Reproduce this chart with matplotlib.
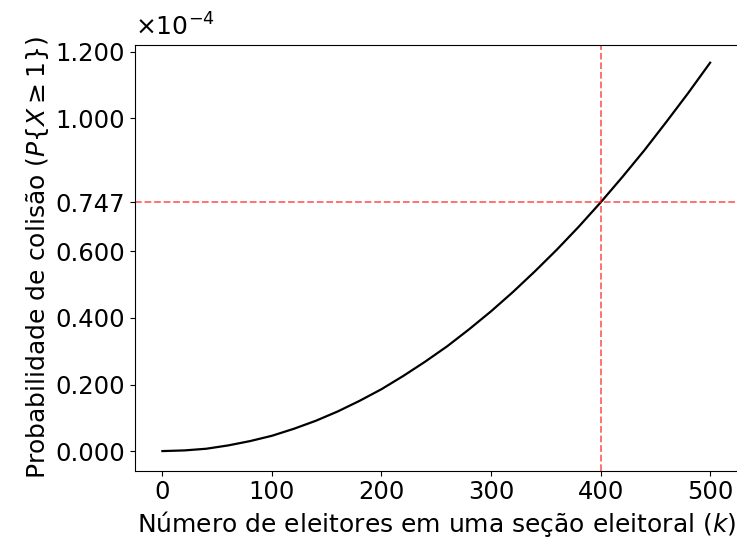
import matplotlib
matplotlib.use("Agg")
import matplotlib.pyplot as plt
from matplotlib.ticker import FuncFormatter

# valores (probabilidade em unidades de 1e-4)
eleitores = [0, 20, 40, 60, 80, 100, 120, 140, 160, 180, 200, 220, 240,
             260, 280, 300, 320, 340, 360, 380, 400, 420, 440, 460, 480, 500]
probabilidade = [0.0, 0.002, 0.007, 0.017, 0.030, 0.046, 0.067, 0.091, 0.119, 0.151,
                 0.186, 0.226, 0.269, 0.315, 0.366, 0.420, 0.478, 0.540, 0.605, 0.674,
                 0.747, 0.824, 0.904, 0.989, 1.076, 1.167]

k_ref = 400
p_ref = 0.747
yticks = [0.0, 0.2, 0.4, 0.6, 0.747, 1.0, 1.2]
xticks = [0, 100, 200, 300, 400, 500]

plt.rcParams["font.family"] = "DejaVu Sans"
plt.rcParams["mathtext.fontset"] = "dejavusans"

fig = plt.figure(figsize=(7.37, 5.45), dpi=100)
ax = fig.add_axes([0.1832, 0.1363, 0.8175, 0.781])

ax.plot(eleitores, probabilidade, color="black", lw=1.6)
ax.axvline(k_ref, color="red", alpha=0.6, ls="--", lw=1.3)
ax.axhline(p_ref, color="red", alpha=0.6, ls="--", lw=1.3)

ax.set_xlim(-25, 525)
ax.set_ylim(-0.059, 1.22)
ax.set_xticks(xticks)
ax.set_yticks(yticks)
ax.yaxis.set_major_formatter(FuncFormatter(lambda v, p: f"{v:.3f}"))
ax.tick_params(labelsize=17.5)

ax.set_xlabel(r"Número de eleitores em uma seção eleitoral ($k$)", fontsize=18, labelpad=3)
ax.set_ylabel(r"Probabilidade de colisão ($P\{X \geq 1\}$)", fontsize=18, labelpad=3)
ax.text(0.0, 1.01, r"$\times10^{-4}$", transform=ax.transAxes, fontsize=18,
        ha="left", va="bottom")

fig.savefig("out.png", dpi=100)
